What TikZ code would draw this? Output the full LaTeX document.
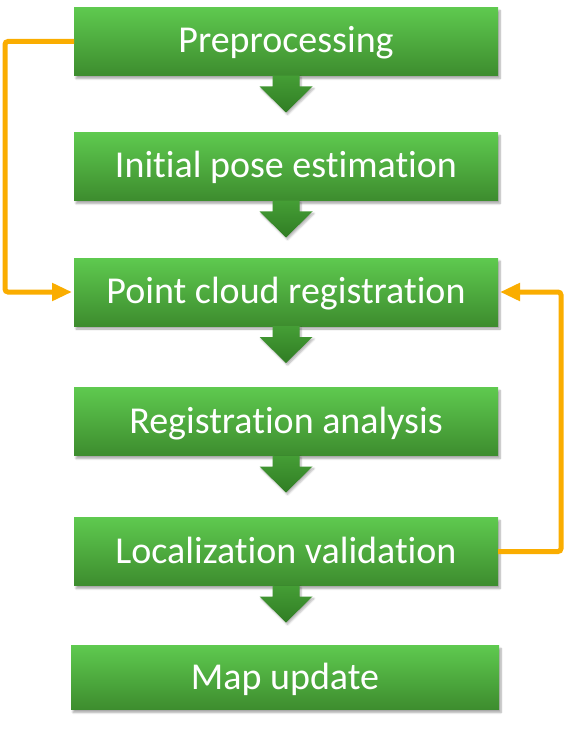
\documentclass[tikz,border=0pt]{standalone}
\usepackage{fontspec}
\setmainfont{Carlito}[Ligatures={NoCommon,NoContextual}, RawFeature={-liga,-clig,-dlig,-calt}]
\usetikzlibrary{positioning, arrows.meta, shadows.blur}
\definecolor{boxtop}{rgb}{0.37, 0.79, 0.31}
\definecolor{boxbottom}{rgb}{0.24, 0.55, 0.18}
\definecolor{arrowtop}{rgb}{0.27, 0.62, 0.21}
\definecolor{arrowbottom}{rgb}{0.19, 0.49, 0.14}
\definecolor{feedback}{rgb}{0.98, 0.68, 0.0}
\tikzstyle{stage} = [rectangle, minimum width=424pt, minimum height=68pt, outer sep=0pt, inner sep=0pt, text height=27pt, text depth=4pt, top color=boxtop, bottom color=boxbottom, text=white, font=\fontsize{38}{44}\selectfont, blur shadow={shadow xshift=2pt, shadow yshift=-3pt, shadow opacity=35, shadow blur steps=6}]
\tikzstyle{flow} = [top color=arrowtop, bottom color=arrowbottom, blur shadow={shadow xshift=1.5pt, shadow yshift=-2pt, shadow opacity=30, shadow blur steps=5}]
\tikzstyle{back} = [draw=feedback, line width=5pt, rounded corners=3pt, -{Triangle[length=20pt, width=17pt]}, shorten >=2pt]

\begin{document}
\begin{tikzpicture}[x=1pt, y=-1pt, node distance=125pt]
		\useasboundingbox (0,0) rectangle (567,735);
		\node [stage] (pre) at (286,41.5) {Preprocessing};
		\node [stage, below of=pre] (pose) {Initial pose est\kern0pt imation};
		\node [stage, below of=pose, yshift=-.5pt] (reg) {Point cloud registrat\kern0pt ion};
		\node [stage, below of=reg, yshift=-4.5pt] (ana) {Registrat\kern0pt ion analysis};
		\node [stage, below of=ana, yshift=-5pt] (val) {Localizat\kern0pt ion validat\kern0pt ion};
		\node [stage, below of=val, xshift=-1pt, minimum width=428pt, minimum height=64pt, yshift=-1pt] (map) {Map update};

		% block arrows between the stages
		\path[flow] ([xshift=-13.5pt]pre.south) -- ++(0,-11pt) -- ++(-13pt,0) -- ++(26.5pt,-26pt) -- ++(26.5pt,26pt) -- ++(-13pt,0) -- ([xshift=13.5pt]pre.south) -- cycle;
		\path[flow] ([xshift=-13.5pt]pose.south) -- ++(0,-11pt) -- ++(-13pt,0) -- ++(26.5pt,-26pt) -- ++(26.5pt,26pt) -- ++(-13pt,0) -- ([xshift=13.5pt]pose.south) -- cycle;
		\path[flow] ([xshift=-13.5pt]reg.south) -- ++(0,-11pt) -- ++(-13pt,0) -- ++(26.5pt,-26pt) -- ++(26.5pt,26pt) -- ++(-13pt,0) -- ([xshift=13.5pt]reg.south) -- cycle;
		\path[flow] ([xshift=-13.5pt]ana.south) -- ++(0,-11pt) -- ++(-13pt,0) -- ++(26.5pt,-26pt) -- ++(26.5pt,26pt) -- ++(-13pt,0) -- ([xshift=13.5pt]ana.south) -- cycle;
		\path[flow] ([xshift=-13.5pt]val.south) -- ++(0,-11pt) -- ++(-13pt,0) -- ++(26.5pt,-26pt) -- ++(26.5pt,26pt) -- ++(-13pt,0) -- ([xshift=13.5pt]val.south) -- cycle;

		% feedback lines
		\draw[back] (pre.west) -- ++(-69pt,0) |- (reg.west);
		\draw[back] (val.east) -- ++(63pt,0) |- (reg.east);
\end{tikzpicture}
\end{document}
